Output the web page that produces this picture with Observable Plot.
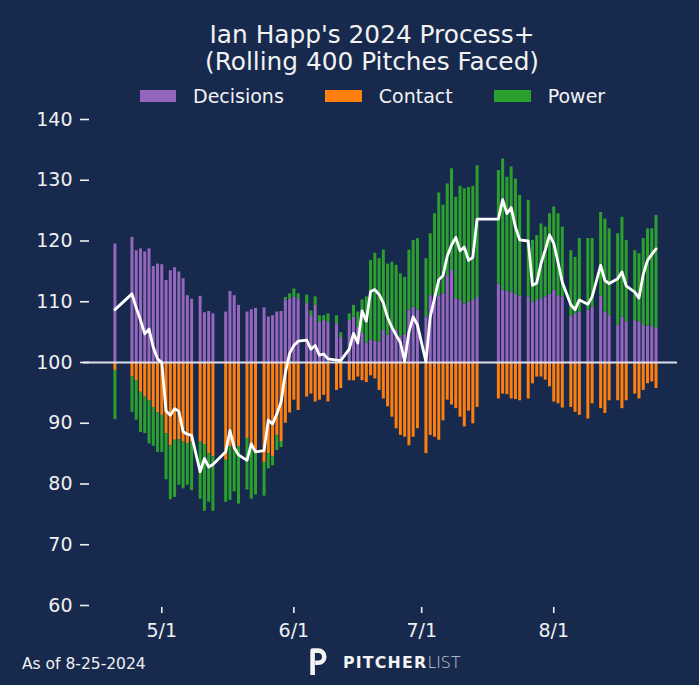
<!DOCTYPE html>
<html>
<head>
<meta charset="utf-8">
<script src="https://cdn.jsdelivr.net/npm/d3@7"></script>
<script src="https://cdn.jsdelivr.net/npm/@observablehq/plot@0.6"></script>
<style>
  html, body { margin: 0; padding: 0; background: #172a4e; }
  #wrap { position: relative; width: 699px; height: 685px; background: #172a4e; overflow: hidden;
          font-family: "DejaVu Sans", sans-serif; color: #f2f2f2; }
  #chart { position: absolute; left: 0; top: 0; }
  .abs { position: absolute; white-space: nowrap; }
</style>
</head>
<body>
<div id="wrap">
  <div id="chart"></div>
  <div class="abs" id="title" style="top:21px;left:372px;transform:translateX(-50%);font-size:24.8px;line-height:27.4px;text-align:center;"></div>
  <div class="abs" id="legend" style="top:86.6px;left:139.5px;display:flex;align-items:flex-start;font-size:19px;line-height:19px;"></div>
  <div class="abs" id="footer" style="top:657.4px;left:22px;font-size:15.5px;line-height:15.5px;"></div>
  <div class="abs" id="logo" style="top:648px;left:310px;height:28px;">
    <svg width="17" height="28" viewBox="0 0 17 28" style="position:absolute;left:0;top:0">
      <path d="M2.6 27 V2.6 H8.2 A6.1 6.1 0 0 1 8.2 14.8 H5.2" fill="none" stroke="#f4f4f4" stroke-width="4.6" stroke-linejoin="round"/>
    </svg>
    <div class="abs" style="left:33px;top:7px;font-size:15.8px;line-height:15.8px;">
      <span style="font-weight:bold;letter-spacing:1.2px;color:#f4f4f4">PITCHER</span><span style="font-weight:200;color:#c8ccd6">LIST</span>
    </div>
  </div>
</div>
<script>
// ---------------- data ----------------
const titleLines = ["Ian Happ's 2024 Process+", "(Rolling 400 Pitches Faced)"];
const footerText = "As of 8-25-2024";
const components = ["Decisions", "Contact", "Power"];
const componentColors = ["#9467bd", "#ff7f0e", "#2ca02c"];

const gameDates = [
  "04-20","04-24","04-25","04-26","04-27","04-28","04-29","04-30","05-01","05-02","05-03","05-04","05-05","05-06","05-07","05-08",
  "05-10","05-11","05-12","05-13",
  "05-16","05-17","05-18","05-19",
  "05-21","05-22","05-23",
  "05-25","05-26","05-27","05-28","05-29","05-30","05-31","06-01","06-02",
  "06-04","06-05","06-06","06-07","06-08","06-09",
  "06-11","06-12",
  "06-14","06-15","06-16","06-17","06-18","06-19","06-20","06-21","06-22","06-23","06-24","06-25","06-26","06-27","06-28","06-29","06-30",
  "07-02","07-03","07-04","07-05","07-06","07-07","07-08","07-09","07-10","07-11","07-12","07-13","07-14",
  "07-19","07-20","07-21","07-22","07-23","07-24",
  "07-26","07-27","07-28","07-29","07-30","07-31","08-01","08-02","08-03",
  "08-05","08-06","08-07",
  "08-09","08-10",
  "08-12","08-13","08-14",
  "08-16","08-17","08-18",
  "08-20","08-21","08-22","08-23","08-24","08-25"
];

// contributions relative to 100
const decisions = [
  19.5, 20.6, 18.4, 18.7, 18.2, 18.7, 15.8, 16.2, 16.1, 13.5, 15.1, 15.6, 14.9, 13.8, 11.0, 10.4,
  10.9, 8.2, 8.4, 8.0,
  8.3, 11.7, 11.0, 9.4,
  8.3, 8.7, 8.9,
  9.0, 7.5, 7.7, 8.3, 8.4, 10.3, 10.5, 10.8, 10.5,
  9.7, 7.7, 9.4, 6.6, 6.9, 6.6,
  6.4, 4.1,
  6.9, 7.5, 5.8, 4.8, 3.2, 3.7, 3.5, 3.4, 5.3, 4.5, 5.5, 5.3, 4.2, 4.7, 8.6, 9.1, 8.6,
  7.5, 11.0, 11.0, 11.0, 11.3, 14.3, 15.3, 10.5, 10.2, 9.6, 10.0, 10.2, 10.7,
  12.9, 11.9, 11.7, 11.6, 11.2, 10.9,
  10.8, 9.9, 10.2, 10.5, 10.8, 11.3, 11.9, 11.0, 10.8,
  7.6, 8.0, 8.3,
  8.6, 9.1,
  10.9, 8.3, 7.7,
  6.1, 7.5, 6.7,
  6.9, 6.7, 6.1, 6.0, 6.0, 5.6
];
const contact = [
  -1.3, -2.4, -3.0, -4.9, -5.7, -6.3, -7.4, -8.3, -8.7, -11.7, -13.7, -12.8, -12.7, -13.1, -13.4, -13.1,
  -13.0, -13.5, -15.0, -15.5,
  -16.1, -13.9, -14.5, -13.9,
  -12.5, -14.0, -15.0,
  -16.5, -15.0, -15.5, -12.0, -13.0, -10.0, -8.3, -6.2, -7.9,
  -5.7, -5.2, -6.5, -6.2, -5.4, -6.5,
  -4.6, -4.3,
  -3.0, -3.0, -2.4, -3.0, -3.3, -2.2, -2.7, -4.6, -6.0, -7.3, -9.0, -10.9, -12.0, -12.3, -13.7, -12.3, -10.9,
  -15.0, -12.0, -12.3, -12.8, -9.6, -6.2, -7.0, -7.6, -9.0, -10.6, -8.0, -10.1, -7.4,
  -6.0, -5.2, -5.3, -6.0, -6.1, -6.3,
  -6.0, -3.5, -2.4, -2.4, -2.9, -4.0, -6.5, -6.8, -7.5,
  -7.4, -8.2, -8.7,
  -9.3, -6.8,
  -7.6, -8.4, -6.3,
  -6.3, -7.6, -6.3,
  -5.2, -6.0, -4.6, -3.5, -3.2, -4.3
];
const power = [
  -8.1, -5.8, -6.5, -6.6, -6.0, -7.1, -6.4, -6.5, -6.1, -7.6, -8.9, -9.4, -7.5, -7.7, -6.8, -8.0,
  -9.5, -11.0, -8.0, -9.0,
  -6.9, -8.8, -6.8, -9.4,
  -8.5, -8.5, -6.8,
  -5.5, -2.5, -1.5, -2.5, -1.0, 0.4, 0.8, 1.3, 0.8,
  1.4, 0.8, 1.4, 1.1, 0.8, 1.4,
  1.3, 0.8,
  1.1, 1.9, 2.5, 5.5, 7.6, 13.1, 14.5, 13.7, 13.2, 11.7, 11.0, 10.7, 10.4, 9.3, 9.9, 11.0, 11.8,
  9.6, 10.2, 13.5, 16.9, 14.6, 15.1, 16.6, 16.7, 18.8, 19.0, 18.8, 18.8, 21.7,
  18.7, 21.6, 18.8, 20.6, 19.0, 16.6,
  15.9, 10.2, 10.7, 12.3, 11.5, 13.2, 13.7, 13.5, 11.5,
  10.8, 9.3, 12.1,
  11.8, 11.3,
  13.8, 15.3, 14.3,
  15.1, 16.4, 13.4,
  11.5, 11.2, 14.3, 16.0, 16.0, 18.6
];
// Process+ (white line)
const processPlus = [
  108.7, 111.3, 109.0, 107.0, 104.7, 105.5, 102.5, 100.6, 100.0, 92.0, 91.3, 92.4, 92.0, 88.6, 88.2, 88.0,
  82.0, 84.2, 82.8, 83.2,
  85.3, 88.8, 86.0, 84.8,
  83.9, 86.6, 85.3,
  85.5, 90.5, 89.9, 91.5, 93.5, 98.3, 101.5, 102.8, 103.5,
  103.7, 102.2, 102.8, 101.2, 101.4, 100.6,
  100.4, 100.3,
  102.2, 104.8, 103.2, 108.5, 106.8, 111.7, 112.0, 111.2, 109.8, 107.4, 105.8, 104.5, 103.3, 100.2, 105.0, 107.5, 106.2,
  100.1, 107.5, 110.5, 113.6, 114.3, 117.5, 119.3, 120.6, 118.4, 119.0, 116.8, 117.3, 123.6,
  123.6, 126.8, 124.5, 125.5, 122.3, 120.2,
  120.0, 112.7, 113.1, 116.3, 118.5, 121.0, 119.6, 116.5, 113.2,
  109.5, 108.7, 110.3,
  109.6, 110.8,
  116.0, 113.5, 113.0,
  113.8, 114.9, 112.6,
  111.6, 110.6, 114.5, 116.8, 117.8, 118.7
];
const baseline = 100;
const yTicks = [60, 70, 80, 90, 100, 110, 120, 130, 140];
const xTickLabels = ["5/1", "6/1", "7/1", "8/1"];

// ---------------- build ----------------
const parseDay = s => new Date(`2024-${s}T00:00:00Z`);
const rows = gameDates.flatMap((d, i) => {
  const date = parseDay(d);
  return [
    {date, component: components[0], value: decisions[i]},
    {date, component: components[1], value: contact[i]},
    {date, component: components[2], value: power[i]}
  ];
});
const lineRows = gameDates.map((d, i) => ({date: parseDay(d), value: processPlus[i] - baseline}));
const xTickDates = xTickLabels.map(s => { const [m, d] = s.split("/"); return new Date(Date.UTC(2024, +m - 1, +d)); });

const chart = Plot.plot({
  width: 699,
  height: 685,
  marginLeft: 83,
  marginRight: 22,
  marginTop: 119,
  marginBottom: 80,
  style: {background: "transparent", color: "#f0f0f0", fontFamily: "DejaVu Sans", fontSize: "19px", overflow: "visible"},
  x: {type: "utc", domain: [new Date(Date.UTC(2024, 3, 12, 15)), new Date(Date.UTC(2024, 7, 30, 1))], label: null},
  y: {domain: [yTicks[0] - baseline, yTicks[yTicks.length - 1] - baseline], label: null},
  color: {domain: components, range: componentColors},
  marks: [
    Plot.ruleX(rows, Plot.stackY({x: "date", y: "value", z: "component", stroke: "component", strokeWidth: 3})),
    Plot.ruleY([0], {stroke: "#dedde9", strokeWidth: 2}),
    Plot.line(lineRows, {x: "date", y: "value", stroke: "#ffffff", strokeWidth: 2.8, strokeLinejoin: "round"}),
    Plot.axisY({ticks: yTicks.map(t => t - baseline), tickFormat: d => String(d + baseline), tickSize: 9, tickPadding: 8, dx: 6, strokeWidth: 1.6, fontSize: 19}),
    Plot.axisX({ticks: xTickDates, tickFormat: d => `${d.getUTCMonth() + 1}/${d.getUTCDate()}`, tickSize: 6, tickPadding: 10, dy: 2, strokeWidth: 1.6, fontSize: 19})
  ]
});
document.getElementById("chart").appendChild(chart);

// title, legend, footer
document.getElementById("title").innerHTML = titleLines.map(t => t.replace(/&/g, "&amp;")).join("<br>");
const legend = document.getElementById("legend");
components.forEach((c, i) => {
  const item = document.createElement("div");
  item.style.cssText = `display:flex;align-items:flex-start;margin-right:${i < components.length - 1 ? 41.5 : 0}px;`;
  const sw = document.createElement("div");
  sw.style.cssText = `width:36.5px;height:12.3px;margin-top:3.4px;margin-right:17px;background:${componentColors[i]};`;
  const lab = document.createElement("span");
  lab.textContent = c;
  item.appendChild(sw);
  item.appendChild(lab);
  legend.appendChild(item);
});
document.getElementById("footer").textContent = footerText;
</script>
</body>
</html>
